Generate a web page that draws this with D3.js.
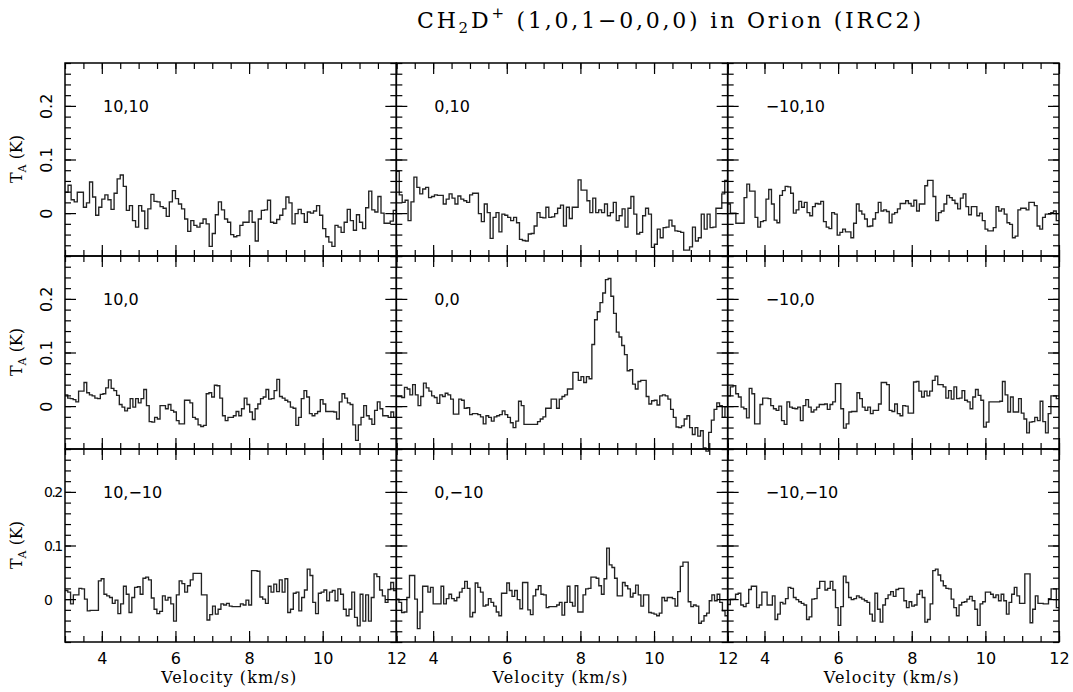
<!DOCTYPE html>
<html>
<head>
<meta charset="utf-8">
<script src="https://cdn.jsdelivr.net/npm/d3@7"></script>
<style>
  body { margin: 0; background: #fff; }
  svg { display: block; }
  .tick line { stroke: #000; stroke-width: 1.2; }
  .tick text { font-family: "DejaVu Sans", sans-serif; font-size: 16px; fill: #000; }
  .frame { fill: none; stroke: #000; stroke-width: 1.5; }
  .spec { fill: none; stroke: #222; stroke-width: 1.35; }
  .serif { font-family: "DejaVu Serif", serif; fill: #000; }
</style>
</head>
<body>
<div id="chart"></div>
<script>
// velocity axis (km/s) and antenna temperature axis (K)
const velRange = [3, 12];
const tempRange = [-0.08, 0.28];
const xMajorTicks = [4, 6, 8, 10, 12];
const xMinorTicks = [3, 3.5, 4, 4.5, 5, 5.5, 6, 6.5, 7, 7.5, 8, 8.5, 9, 9.5, 10, 10.5, 11, 11.5, 12];
const yMajorTicks = [0, 0.1, 0.2];
const yMinorTicks = [-0.08, -0.06, -0.04, -0.02, 0, 0.02, 0.04, 0.06, 0.08, 0.1, 0.12, 0.14, 0.16, 0.18, 0.2, 0.22, 0.24, 0.26, 0.28];

// map offsets (arcsec), row by row
const offsets = ["10,10", "0,10", "\u221210,10", "10,0", "0,0", "\u221210,0", "10,\u221210", "0,\u221210", "\u221210,\u221210"];

// channel values, equally spaced over the velocity range
const spec10_10 = [
  0.039, 0.052, 0.025, 0.021, 0.039, 0.039, 0.011, 0.019, 0.058, 0.030,
  -0.004, 0.011, 0.026, 0.034, 0.025, 0.007, 0.037, 0.064, 0.071, 0.050,
  0.005, 0.014, -0.014, -0.026, 0.014, 0.004, -0.029, 0.008, 0.035, 0.022,
  0.021, 0.012, 0.009, -0.006, 0.021, 0.042, 0.027, 0.017, 0.008, -0.011,
  -0.034, -0.014, -0.023, -0.026, -0.019, -0.011, -0.020, -0.062, -0.038, -0.003,
  0.021, 0.006, -0.011, -0.017, -0.040, -0.044, -0.042, -0.023, -0.017, -0.017,
  0.004, -0.017, -0.052, -0.011, 0.005, 0.006, 0.024, -0.017, -0.019, -0.012,
  -0.004, 0.008, 0.030, 0.019, -0.020, -0.001, 0.007, -0.001, -0.017, 0.002,
  0.000, 0.004, 0.014, -0.004, -0.029, -0.044, -0.054, -0.062, -0.023, -0.026,
  -0.036, -0.017, 0.007, -0.014, -0.032, -0.003, -0.017, -0.029, 0.010, 0.041,
  0.006, 0.002, 0.031, 0.000, -0.019, -0.019, -0.015, 0.005
];
const spec0_10 = [
  0.078, 0.034, 0.020, 0.024, -0.014, 0.021, 0.067, 0.048, 0.036, 0.045,
  0.048, 0.029, 0.031, 0.034, 0.033, 0.033, 0.017, 0.026, 0.036, 0.028,
  0.017, 0.032, 0.026, 0.023, 0.020, 0.034, 0.037, 0.037, -0.001, -0.016,
  0.017, 0.001, -0.047, -0.008, 0.001, -0.035, -0.002, -0.004, -0.008, -0.014,
  -0.008, -0.018, -0.049, -0.051, -0.052, -0.039, -0.038, -0.024, 0.001, -0.008,
  -0.009, 0.011, -0.008, -0.007, -0.001, 0.009, 0.015, -0.024, 0.011, -0.010,
  0.011, 0.011, 0.062, 0.043, 0.043, 0.023, 0.001, 0.028, 0.001, 0.006,
  0.001, 0.017, -0.005, 0.001, 0.020, -0.014, -0.005, 0.008, -0.026, 0.009,
  0.031, -0.002, -0.039, -0.036, -0.005, 0.009, -0.002, -0.064, -0.058, -0.030,
  -0.046, -0.027, -0.026, -0.013, -0.024, -0.033, -0.034, -0.036, -0.069, -0.069,
  -0.063, -0.026, -0.052, -0.046, -0.002, -0.030, -0.002, -0.027, -0.026, 0.009,
  0.009, 0.036, 0.061
];
const specM10_10 = [
  0.017, 0.000, 0.000, -0.019, -0.019, -0.019, 0.029, 0.054, 0.041, 0.041, -0.008,
  -0.026, -0.016, -0.014, 0.026, 0.044, 0.017, -0.013, -0.018, 0.033, 0.042,
  0.050, 0.049, 0.037, 0.000, 0.006, 0.022, 0.011, 0.020, 0.001, -0.005,
  0.012, 0.018, 0.017, 0.022, -0.016, -0.026, -0.029, 0.001, -0.002, -0.041,
  -0.036, -0.030, -0.035, -0.035, -0.046, -0.019, 0.017, 0.004, -0.002, -0.011, -0.025,
  -0.024, -0.011, 0.001, 0.020, 0.004, 0.006, 0.003, -0.018, -0.002, 0.001,
  0.008, 0.018, 0.018, 0.023, 0.018, 0.013, 0.024, 0.004, 0.017, 0.017,
  0.051, 0.061, 0.061, 0.031, -0.014, 0.001, 0.004, 0.017, 0.033, 0.029,
  0.024, 0.018, 0.008, 0.028, 0.036, 0.012, -0.003, 0.012, 0.012, -0.005,
  0.000, -0.014, -0.030, -0.033, -0.033, -0.027, 0.012, 0.004, 0.008, -0.002,
  -0.018, -0.021, -0.046, -0.043, 0.006, 0.009, 0.009, 0.006, 0.020, 0.020,
  0.014, -0.024, -0.030, -0.008, -0.002, -0.002, 0.001, 0.004, -0.014
];
const spec10_0 = [
  0.021, 0.015, 0.014, 0.012, 0.008, 0.028, 0.028, 0.044, 0.025, 0.021,
  0.019, 0.015, 0.014, 0.022, 0.023, 0.034, 0.049, 0.033, 0.029, 0.020,
  0.003, -0.002, -0.009, -0.004, 0.014, -0.002, 0.014, 0.006, 0.014, 0.031,
  0.001, -0.029, -0.030, -0.021, -0.024, 0.001, 0.001, -0.005, 0.003, -0.008,
  -0.011, -0.027, -0.033, -0.033, 0.011, 0.011, 0.006, -0.021, -0.024, -0.035,
  -0.038, -0.036, 0.023, 0.025, 0.017, 0.039, 0.038, 0.015, -0.018, -0.027,
  -0.021, -0.021, -0.018, -0.010, -0.018, -0.005, 0.015, 0.003, -0.011, -0.025,
  -0.005, 0.004, 0.014, 0.017, 0.031, 0.013, 0.014, 0.029, 0.050, 0.018,
  0.015, 0.011, 0.008, -0.002, -0.004, -0.036, -0.021, 0.014, 0.029, 0.017,
  -0.014, -0.018, -0.014, -0.010, 0.012, 0.004, -0.010, -0.010, -0.010, -0.011,
  -0.024, 0.008, 0.023, 0.015, 0.006, 0.003, -0.035, -0.064, -0.035, -0.021,
  0.001, -0.018, -0.024, -0.034, -0.008, 0.008, -0.005, -0.018, -0.018, -0.021,
  -0.011, -0.021
];
const spec0_0 = [
  0.018, 0.018, 0.016, 0.035, 0.032, 0.021, 0.040, 0.021, 0.001, 0.018,
  0.043, 0.034, 0.028, 0.019, 0.016, 0.005, 0.021, 0.018, 0.024, 0.021,
  0.013, -0.015, -0.015, 0.013, 0.011, -0.004, -0.003, -0.016, -0.014, -0.014,
  -0.016, -0.020, -0.033, -0.018, -0.021, -0.028, -0.020, -0.018, -0.016, -0.009,
  -0.016, -0.021, -0.031, -0.040, -0.028, 0.009, 0.001, -0.034, -0.034, -0.034,
  -0.034, -0.034, -0.029, -0.024, -0.020, -0.004, -0.004, 0.013, 0.013, -0.004,
  0.013, 0.018, 0.021, 0.032, 0.032, 0.063, 0.063, 0.048, 0.055, 0.044, 0.055,
  0.051, 0.115, 0.161, 0.176, 0.193, 0.211, 0.236, 0.238, 0.205, 0.173,
  0.138, 0.129, 0.113, 0.096, 0.066, 0.068, 0.041, 0.032, 0.046, 0.048,
  0.048, 0.018, 0.004, 0.010, 0.011, 0.002, 0.019, 0.021, 0.019, 0.013,
  -0.006, -0.021, -0.039, -0.040, -0.037, -0.024, -0.018, -0.040, -0.053,
  -0.040, -0.056, -0.046, -0.078, -0.084, -0.049, -0.026, -0.006, 0.006, 0.001,
  -0.021, -0.001
];
const specM10_0 = [
  0.019, 0.036, 0.038, 0.023, 0.017, -0.002, -0.005, -0.022, 0.033, 0.023,
  -0.033, -0.033, 0.003, 0.015, 0.015, 0.014, 0.001, -0.005, -0.008, 0.000,
  -0.027, -0.034, 0.008, -0.002, -0.004, -0.005, -0.002, -0.027, 0.001, 0.012,
  -0.002, -0.011, -0.007, -0.002, 0.003, 0.003, 0.004, -0.006, 0.003, 0.008,
  0.042, 0.042, -0.005, -0.041, -0.033, -0.011, -0.010, -0.010, 0.025, 0.014,
  -0.002, -0.008, -0.002, -0.014, -0.008, -0.008, 0.004, 0.044, 0.044, 0.040,
  -0.008, -0.010, 0.004, -0.014, -0.018, 0.001, 0.000, -0.013, -0.013, 0.045,
  0.046, 0.028, 0.017, 0.028, 0.019, 0.028, 0.048, 0.056, 0.040, 0.040,
  0.036, 0.015, 0.029, 0.013, 0.036, 0.014, 0.015, 0.029, 0.011, 0.008,
  -0.005, 0.017, 0.031, 0.020, 0.011, -0.039, -0.030, 0.008, 0.008, 0.008,
  0.008, 0.009, 0.046, 0.021, -0.011, 0.017, -0.011, -0.011, 0.014, -0.013,
  -0.024, -0.050, -0.030, -0.029, -0.021, -0.027, 0.009, -0.029, -0.050, -0.014,
  0.019, 0.019, 0.014
];
const spec10_M10 = [
  0.016, 0.013, -0.009, 0.008, 0.008, 0.020, 0.019, 0.000, -0.022, -0.021,
  -0.021, -0.021, 0.034, 0.038, 0.009, 0.006, 0.003, -0.008, -0.002, -0.027, -0.009,
  0.024, 0.009, -0.025, 0.003, 0.022, 0.023, 0.009, 0.039, 0.041, 0.036,
  0.002, -0.019, -0.027, -0.023, 0.006, -0.002, 0.003, -0.009, -0.041, 0.008,
  0.034, 0.029, 0.013, 0.025, 0.036, 0.048, 0.048, 0.048, 0.008, 0.008, -0.039,
  -0.029, -0.013, -0.028, -0.019, -0.009, -0.011, -0.008, -0.013, -0.014, -0.014, -0.014,
  -0.009, -0.011, -0.002, -0.011, 0.053, 0.053, 0.052, 0.004, 0.000, -0.008,
  0.024, 0.013, 0.028, 0.014, 0.036, 0.013, 0.038, -0.025, -0.019,
  0.011, 0.013, -0.022, 0.003, 0.017, 0.056, 0.044, -0.006, -0.027, 0.011,
  0.013, 0.017, -0.003, 0.013, 0.016, -0.003, 0.019, 0.009, -0.019,
  -0.031, -0.019, 0.013, -0.034, -0.050, 0.009, -0.041, 0.008, -0.041,
  0.003, 0.047, 0.042, 0.017, 0.006, -0.006, 0.018, 0.031, 0.016
];
const spec0_M10 = [
  0.000, -0.006, -0.025, -0.024, 0.003, 0.044, 0.044, 0.000, -0.055, -0.024,
  0.024, 0.024, 0.013, 0.022, -0.009, -0.009, -0.009, 0.024, -0.009, 0.001, 0.009,
  0.001, -0.003, 0.003, 0.013, 0.020, 0.033, 0.020, -0.033, -0.025, 0.030,
  0.022, 0.013, -0.013, -0.011, 0.001, -0.006, -0.013, -0.024, -0.031, 0.011,
  0.011, 0.030, 0.016, 0.005, 0.016, -0.001, -0.018, 0.031, 0.031, -0.020,
  -0.029, 0.006, 0.018, 0.025, 0.009, 0.008, -0.016, -0.014, -0.014, -0.014, -0.011,
  -0.006, -0.030, -0.006, 0.024, -0.006, -0.013, 0.025, -0.024, -0.024, 0.008,
  0.019, 0.020, 0.041, 0.041, 0.039, 0.025, 0.009, 0.038, 0.095, 0.064,
  0.059, 0.039, 0.006, 0.006, 0.031, 0.025, 0.019, 0.004, 0.011, 0.026,
  0.008, -0.013, 0.008, 0.008, -0.025, -0.026, -0.028, -0.031, -0.026,
  0.003, -0.003, 0.003, 0.003, 0.001, -0.013, 0.014, 0.061, 0.069, 0.069,
  -0.005, -0.014, -0.011, -0.013, -0.045, -0.041, -0.031, -0.026, -0.003, 0.008,
  -0.003, 0.009, -0.006, -0.022, -0.031
];
const specM10_M10 = [
  -0.010, 0.000, 0.000, 0.009, 0.011, -0.011, -0.014, -0.008, 0.018, 0.024,
  0.024, -0.016, -0.011, 0.013, 0.013, -0.011, -0.011, 0.006, -0.038, -0.028,
  -0.006, -0.009, 0.001, 0.022, 0.020, 0.003, -0.001, -0.005, -0.008, -0.011,
  -0.038, -0.033, 0.000, 0.001, 0.020, 0.033, 0.033, 0.017, 0.020, 0.033,
  0.017, -0.016, -0.049, -0.014, 0.043, 0.031, 0.003, -0.001, 0.001, 0.006,
  0.003, 0.000, -0.003, -0.006, -0.028, -0.041, 0.011, -0.019, -0.043, -0.011,
  0.001, 0.008, 0.014, 0.005, 0.018, 0.020, 0.020, -0.003, -0.016, -0.005,
  -0.013, -0.011, 0.009, 0.016, 0.003, -0.043, -0.038, -0.009, 0.053, 0.056,
  0.045, 0.034, 0.025, 0.020, 0.019, 0.000, -0.016, -0.031, -0.011, -0.006,
  -0.005, 0.000, 0.005, -0.003, -0.019, -0.049, -0.009, -0.005, 0.013, 0.013,
  0.009, 0.003, 0.008, -0.003, 0.009, -0.003, -0.028, -0.006, 0.009, 0.022,
  0.006, -0.008, -0.008, 0.047, 0.047, -0.044, -0.019, 0.006, -0.008, -0.008,
  -0.009, -0.009, 0.001, 0.019, 0.019, -0.016
];

const spectra = [spec10_10, spec0_10, specM10_10, spec10_0, spec0_0, specM10_0, spec10_M10, spec0_M10, specM10_M10];

const width = 1073, height = 692;
const plotLeft = 65, plotRight = 1059, plotTop = 63, plotBottom = 642;
const nCols = 3, nRows = 3;
const panelW = (plotRight - plotLeft) / nCols;
const panelH = (plotBottom - plotTop) / nRows;

const svg = d3.select("#chart").append("svg")
    .attr("width", width)
    .attr("height", height);

const x = d3.scaleLinear().domain(velRange).range([0, panelW]);
const y = d3.scaleLinear().domain(tempRange).range([panelH, 0]);

const line = d3.line()
    .x(d => x(d[0]))
    .y(d => y(d[1]))
    .curve(d3.curveStepAfter);

const fmtY = d => d === 0 ? "0" : d.toFixed(1);

spectra.forEach((vals, k) => {
    const col = k % nCols, row = Math.floor(k / nCols);
    const g = svg.append("g")
        .attr("transform", `translate(${plotLeft + col * panelW},${plotTop + row * panelH})`);

    // histogram spectrum
    const dv = (velRange[1] - velRange[0]) / vals.length;
    const pts = vals.map((t, i) => [velRange[0] + i * dv, t]);
    pts.push([velRange[1], vals[vals.length - 1]]);
    g.append("path").attr("class", "spec").attr("d", line(pts));

    const addAxis = (axis, tr) => {
        const a = g.append("g").attr("transform", tr).call(axis);
        a.select(".domain").remove();
        return a;
    };

    // minor ticks on all sides
    addAxis(d3.axisBottom(x).tickValues(xMinorTicks).tickSize(-6).tickFormat(""), `translate(0,${panelH})`);
    addAxis(d3.axisTop(x).tickValues(xMinorTicks).tickSize(-6).tickFormat(""), "translate(0,0)");
    addAxis(d3.axisLeft(y).tickValues(yMinorTicks).tickSize(-6).tickFormat(""), "translate(0,0)");
    addAxis(d3.axisRight(y).tickValues(yMinorTicks).tickSize(-6).tickFormat(""), `translate(${panelW},0)`);

    // major ticks
    addAxis(d3.axisBottom(x).tickValues(xMajorTicks).tickSize(-11).tickPadding(11)
        .tickFormat(row === nRows - 1 ? d3.format("d") : ""), `translate(0,${panelH})`);
    addAxis(d3.axisTop(x).tickValues(xMajorTicks).tickSize(-11).tickFormat(""), "translate(0,0)");
    const left = addAxis(d3.axisLeft(y).tickValues(yMajorTicks).tickSize(-11)
        .tickFormat(col === 0 ? fmtY : ""), "translate(0,0)");
    addAxis(d3.axisRight(y).tickValues(yMajorTicks).tickSize(-11).tickFormat(""), `translate(${panelW},0)`);

    if (col === 0) {
        if (row < nRows - 1) {
            left.selectAll("text")
                .attr("transform", "rotate(-90)")
                .attr("x", 0).attr("y", -13).attr("dy", 0)
                .attr("text-anchor", "middle");
        } else {
            left.selectAll("text")
                .attr("x", -21).attr("dy", "0.36em")
                .attr("text-anchor", "start")
                .style("font-size", "14px")
                .style("letter-spacing", "-1.5px");
        }
        svg.append("text")
            .attr("class", "serif")
            .attr("transform", `translate(22,${plotTop + row * panelH + 96}) rotate(-90)`)
            .attr("text-anchor", "middle")
            .attr("font-size", 16)
            .call(t => {
                t.append("tspan").text("T");
                t.append("tspan").attr("dy", 4).attr("font-size", 11).text("A");
                t.append("tspan").attr("dy", -4).text(" (K)");
            });
    }

    if (row === nRows - 1) {
        svg.append("text")
            .attr("class", "serif")
            .attr("x", plotLeft + col * panelW + panelW / 2 - 2)
            .attr("y", 683)
            .attr("text-anchor", "middle")
            .attr("font-size", 16)
            .attr("textLength", 135)
            .attr("lengthAdjust", "spacing")
            .text("Velocity (km/s)");
    }

    // offset label
    g.append("text")
        .attr("x", 38)
        .attr("y", 49)
        .attr("font-family", "DejaVu Sans, sans-serif")
        .attr("font-size", 16)
        .text(offsets[k]);

    g.append("rect").attr("class", "frame")
        .attr("width", panelW).attr("height", panelH);
});

// title
svg.append("text")
    .attr("class", "serif")
    .attr("x", 417)
    .attr("y", 28)
    .attr("font-size", 22)
    .attr("textLength", 504)
    .attr("lengthAdjust", "spacing")
    .call(t => {
        t.append("tspan").text("CH");
        t.append("tspan").attr("dy", 5).attr("font-size", 15).text("2");
        t.append("tspan").attr("dy", -5).text("D");
        t.append("tspan").attr("dy", -10).attr("font-size", 15).text("+");
        t.append("tspan").attr("dy", 10).text(" (1,0,1\u22120,0,0) in Orion (IRC2)");
    });
</script>
</body>
</html>
